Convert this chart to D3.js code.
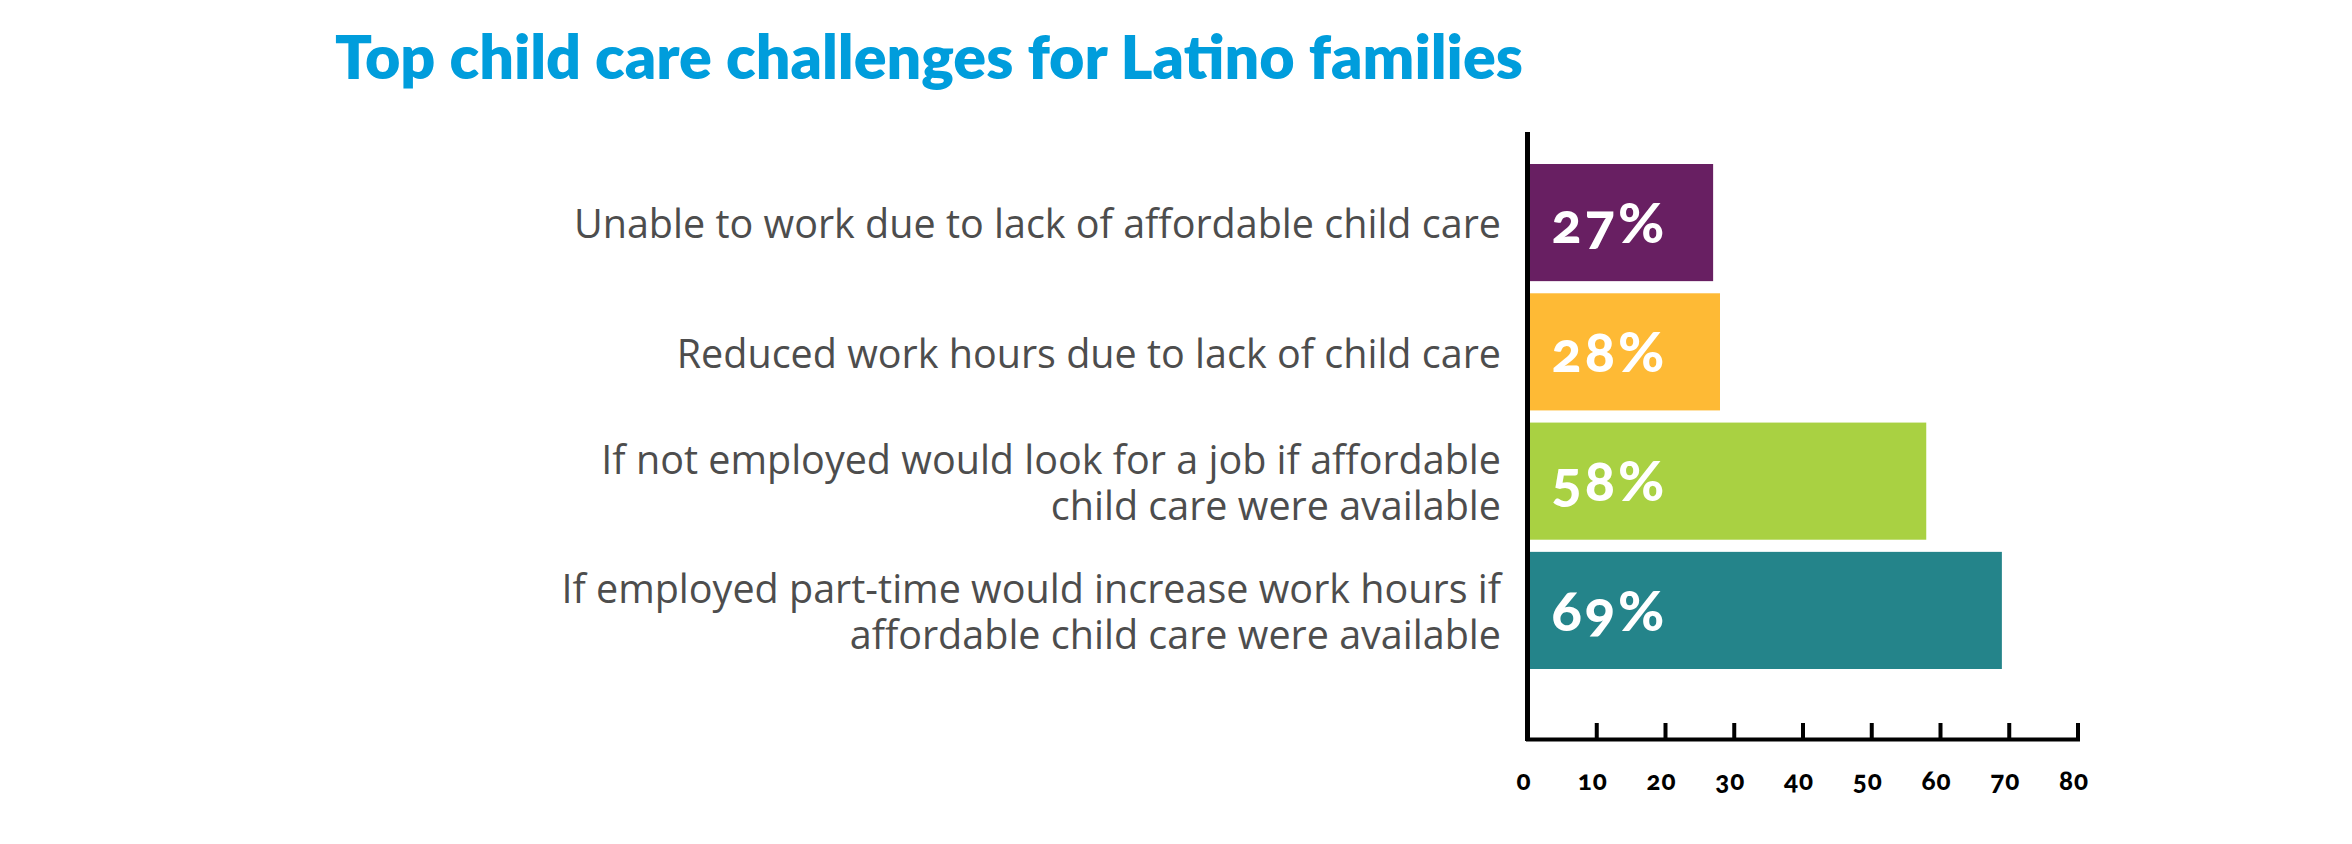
<!DOCTYPE html>
<html>
<head>
<meta charset="utf-8">
<script src="https://cdn.jsdelivr.net/npm/d3@7"></script>
<style>
  body { margin: 0; background: #fff; }
  .chart svg { display: block; }
</style>
</head>
<body>
<div class="chart"></div>
<script>
var svgWidth = 2352;
var svgHeight = 844;

// chart data
var titleText = "Top child care challenges for Latino families";
var categories = [
  "Unable to work due to lack of affordable child care",
  "Reduced work hours due to lack of child care",
  "If not employed would look for a job if affordable\nchild care were available",
  "If employed part-time would increase work hours if\naffordable child care were available"
];
var values = [27, 28, 58, 69];
var barColors = ["#681f62", "#feba35", "#a9d142", "#24848a"];
var tickValues = [0, 10, 20, 30, 40, 50, 60, 70, 80];

var svg = d3.select(".chart")
  .append("svg")
  .attr("width", svgWidth)
  .attr("height", svgHeight);

// scales
var xScale = d3.scaleLinear()
  .domain([0, 80])
  .range([1527.5, 2077.5]);

var yScale = d3.scaleBand()
  .domain(categories)
  .range([164, 669])
  .paddingInner(0.094)
  .paddingOuter(0);

var axisY = 739;

// title
var title = svg.append("text")
  .attr("x", 335)
  .attr("y", 79)
  .attr("fill", "#009ddc")
  .style("font-family", "Lato, sans-serif")
  .style("font-weight", 800)
  .style("font-size", "54px")
  .text(titleText);

// fit the title to the width it has in the reference
var titleW = title.node().getComputedTextLength();
title.style("font-size", (54 * 1188 / titleW) + "px");

// bars
svg.selectAll("rect.bar")
  .data(values)
  .enter()
  .append("rect")
  .attr("class", "bar")
  .attr("x", xScale(0))
  .attr("y", (d, i) => yScale(categories[i]))
  .attr("width", d => xScale(d) - xScale(0))
  .attr("height", yScale.bandwidth())
  .attr("fill", (d, i) => barColors[i]);

// value labels inside the bars
svg.selectAll("text.pct")
  .data(values)
  .enter()
  .append("text")
  .attr("class", "pct")
  .attr("x", xScale(0) + 24)
  .attr("y", (d, i) => yScale(categories[i]) + yScale.bandwidth() / 2)
  .attr("dy", "0.36em")
  .attr("fill", "#fff")
  .style("font-family", "Lato, sans-serif")
  .style("font-weight", 900)
  .style("font-size", "56px")
  .style("font-variant-numeric", "oldstyle-nums")
  .style("letter-spacing", "3px")
  .text(d => d + "%");

// category labels
var labelSize = 39.5;
var lineH = 46;
var labels = svg.selectAll("text.cat")
  .data(categories)
  .enter()
  .append("text")
  .attr("class", "cat")
  .attr("text-anchor", "end")
  .attr("fill", "#4d4d4d")
  .style("font-family", "'Open Sans', sans-serif")
  .style("font-size", labelSize + "px");

labels.each(function(c) {
  var lines = c.split("\n");
  var cy = yScale(c) + yScale.bandwidth() / 2;
  var first = cy + labelSize * 0.35 + 2 - (lines.length - 1) * lineH / 2;
  d3.select(this).selectAll("tspan")
    .data(lines)
    .enter()
    .append("tspan")
    .attr("x", 1501)
    .attr("y", (l, j) => first + j * lineH)
    .text(l => l);
});

// x axis with inward ticks
var bottomAxis = d3.axisBottom(xScale)
  .tickValues(tickValues)
  .tickSizeInner(-16)
  .tickSizeOuter(0)
  .tickPadding(33);

var xAxis = svg.append("g")
  .attr("transform", `translate(0, ${axisY})`)
  .call(bottomAxis);

xAxis.select(".domain")
  .attr("stroke", "#000")
  .attr("stroke-width", 4)
  .attr("stroke-linecap", "square");

xAxis.selectAll(".tick line")
  .attr("stroke", "#000")
  .attr("stroke-width", 4);

xAxis.selectAll(".tick text")
  .attr("dx", -4)
  .attr("fill", "#000")
  .attr("font-size", null)
  .style("font-family", "Lato, sans-serif")
  .style("font-weight", 900)
  .style("font-size", "26px")
  .style("letter-spacing", "1px")
  .style("font-variant-numeric", "oldstyle-nums");

// vertical axis line
svg.append("line")
  .attr("x1", xScale(0))
  .attr("x2", xScale(0))
  .attr("y1", 132)
  .attr("y2", axisY + 2)
  .attr("stroke", "#000")
  .attr("stroke-width", 5);
</script>
</body>
</html>
